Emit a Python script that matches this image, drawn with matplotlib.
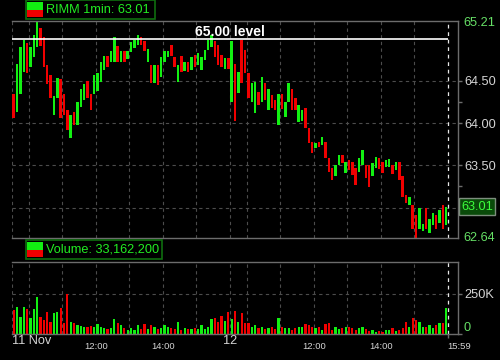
import numpy as np
import matplotlib
matplotlib.use('Agg')
import matplotlib.pyplot as plt
from matplotlib import font_manager
from matplotlib.patches import Rectangle
from matplotlib.transforms import blended_transform_factory

# =====================================
# Data: RIMM 6-minute bars over two sessions (11 Nov, 12 Nov)
# =====================================
bar_minutes = 6
highs = [
    64.35, 64.70, 64.90, 64.99, 64.95, 64.90, 65.05, 65.21, 65.13, 65.02,
    64.69, 64.57, 64.32, 64.54, 64.52, 64.34, 64.16, 64.10, 64.13, 64.25,
    64.40, 64.46, 64.50, 64.34, 64.57, 64.60, 64.72, 64.79, 64.79, 64.85,
    65.02, 64.91, 64.85, 64.85, 64.86, 64.96, 64.99, 65.05, 65.02, 64.97,
    64.88, 64.69, 64.69, 64.69, 64.78, 64.85, 64.85, 64.93, 64.78, 64.69,
    64.79, 64.72, 64.72, 64.78, 64.81, 64.83, 64.78, 64.87, 64.99, 65.04,
    64.97, 64.93, 64.81, 64.77, 64.77,
    64.97, 64.70, 64.61, 64.99, 64.87, 64.60, 64.48, 64.49, 64.37, 64.55,
    64.48, 64.40, 64.33, 64.28, 64.34, 64.35, 64.25, 64.48, 64.40, 64.30,
    64.22, 64.16, 64.18, 63.94, 63.78, 63.76, 63.78, 63.84, 63.78, 63.59,
    63.47, 63.50, 63.62, 63.62, 63.54, 63.56, 63.54, 63.47, 63.59, 63.68,
    63.50, 63.50, 63.53, 63.60, 63.59, 63.54, 63.56, 63.58, 63.51, 63.54,
    63.54, 63.38, 63.15, 63.13, 63.03, 62.91, 63.00, 62.80, 62.99, 62.87,
    62.94, 62.91, 62.97, 63.03, 63.01,
]
lows = [
    64.06, 64.13, 64.34, 64.61, 64.60, 64.67, 64.78, 64.90, 64.91, 64.66,
    64.46, 64.30, 64.10, 64.30, 64.06, 64.10, 63.92, 63.82, 63.98, 63.98,
    64.19, 64.28, 64.30, 64.16, 64.34, 64.38, 64.49, 64.63, 64.66, 64.72,
    64.73, 64.73, 64.72, 64.73, 64.76, 64.84, 64.89, 64.93, 64.92, 64.85,
    64.72, 64.48, 64.48, 64.45, 64.55, 64.72, 64.78, 64.79, 64.66, 64.49,
    64.61, 64.62, 64.61, 64.63, 64.66, 64.69, 64.63, 64.75, 64.87, 64.90,
    64.78, 64.69, 64.66, 64.64, 64.64,
    64.25, 64.02, 64.36, 64.48, 64.60, 64.30, 64.25, 64.12, 64.22, 64.25,
    64.27, 64.16, 64.18, 64.16, 63.98, 64.17, 64.07, 64.25, 64.16, 64.16,
    64.01, 64.02, 63.94, 63.77, 63.65, 63.71, 63.72, 63.74, 63.59, 63.42,
    63.33, 63.38, 63.50, 63.53, 63.41, 63.45, 63.39, 63.27, 63.42, 63.50,
    63.35, 63.24, 63.38, 63.47, 63.46, 63.41, 63.48, 63.48, 63.40, 63.45,
    63.33, 63.12, 63.05, 63.03, 62.75, 62.64, 62.75, 62.72, 62.75, 62.70,
    62.79, 62.75, 62.82, 62.75, 62.79,
]
# 1 = close above open (green), 0 = close below open (red)
up = [
    0, 1, 1, 1, 0, 1, 1, 1, 0, 0,
    0, 0, 1, 1, 0, 0, 0, 1, 0, 1,
    1, 1, 0, 0, 1, 1, 1, 1, 0, 1,
    1, 0, 1, 0, 1, 1, 1, 1, 0, 0,
    1, 0, 1, 0, 1, 1, 1, 0, 0, 1,
    0, 1, 0, 1, 0, 1, 1, 1, 1, 1,
    0, 0, 0, 1, 0,
    1, 0, 1, 0, 0, 0, 1, 1, 0, 1,
    0, 1, 0, 0, 1, 0, 1, 1, 0, 0,
    1, 1, 0, 0, 0, 1, 0, 1, 0, 0,
    0, 1, 1, 0, 1, 0, 0, 0, 1, 1,
    0, 0, 1, 1, 0, 0, 1, 1, 0, 1,
    0, 0, 0, 1, 0, 0, 1, 1, 0, 1,
    1, 0, 1, 0, 1,
]
# volume per bar, thousands of shares
volume_k = [
    150, 167, 108, 167, 154, 98, 154, 229, 108, 88,
    140, 77, 129, 140, 160, 67, 250, 77, 67, 56,
    50, 46, 46, 50, 46, 62, 46, 40, 33, 35,
    92, 67, 56, 35, 25, 35, 25, 56, 29, 62,
    33, 56, 42, 29, 35, 56, 42, 35, 29, 73,
    25, 35, 29, 31, 35, 29, 56, 29, 42, 92,
    98, 77, 112, 83, 135,
    92, 144, 77, 133, 71, 67, 46, 56, 35, 46,
    29, 35, 46, 29, 98, 46, 35, 40, 25, 35,
    42, 46, 62, 56, 46, 35, 46, 25, 62, 71,
    25, 42, 29, 35, 46, 42, 35, 25, 35, 42,
    29, 21, 25, 15, 21, 15, 25, 25, 35, 21,
    25, 35, 77, 46, 98, 87, 77, 42, 46, 56,
    35, 56, 67, 67, 160,
]
last_close = 63.01
total_volume = 33162200
level = 65.00

price_ticks = [63.0, 63.5, 64.0, 64.5]
price_labels = ['', '63.50', '64.00', '64.50']
vol_ticks = [0, 250000]
vol_labels = ['', '250K']

# x axis in session minutes (9:30-16:00 = 390 per day)
hour_lines = [0, 30, 90, 150, 210, 270, 330, 390, 420, 480, 540, 600, 660, 720]
day_end = 780
date_labels = [(0, '11 Nov', 'left'), (390, '12', 'center')]
time_labels = [(150, '12:00'), (270, '14:00'), (540, '12:00'), (660, '14:00')]
end_label = '15:59'

# =====================================
# Style
# =====================================
names = {f.name for f in font_manager.fontManager.ttflist}
if 'Liberation Sans Narrow' in names:
    NARROW, NSIZE = 'Liberation Sans Narrow', 11
else:
    NARROW, NSIZE = 'Liberation Sans', 9.2
plt.rcParams['font.family'] = 'Liberation Sans'

GREEN = '#12f012'
RED = '#f00000'
GRID = '#4c4c4c'
SPINE = '#6c6c6c'
LABEL = '#d4d4d4'
LIGHTGREEN = '#66e066'

highs = np.array(highs)
lows = np.array(lows)
x = np.arange(len(highs)) * bar_minutes + bar_minutes / 2
colors = [GREEN if u else RED for u in up]

W, H = 500, 360
fig = plt.figure(figsize=(W / 100, H / 100), dpi=100, facecolor='black')


def fbox(x0, y0, x1, y1):
    # pixel box (top-left origin) -> figure fraction rect
    return [x0 / W, 1 - y1 / H, (x1 - x0) / W, (y1 - y0) / H]


ax = fig.add_axes(fbox(12, 21, 458, 238))
axv = fig.add_axes(fbox(12, 262, 458, 334), sharex=ax)

for a in (ax, axv):
    a.set_facecolor('black')
    a.spines['left'].set_visible(False)
    for s in ('top', 'bottom', 'right'):
        a.spines[s].set_color(SPINE)
        a.spines[s].set_linewidth(1.0)
    a.yaxis.tick_right()
    a.set_xticks(hour_lines)
    a.grid(True, color=GRID, linestyle=(0, (3, 3)), linewidth=0.8)
    a.set_axisbelow(True)
    a.tick_params(axis='y', colors=SPINE, labelcolor=LABEL, length=3,
                  width=1, pad=1.5, labelsize=NSIZE)
    a.tick_params(axis='y', which='minor', colors=SPINE, length=3, width=1)
    a.axvline(day_end, color='#e8e8e8', linestyle=(0, (3, 3)), linewidth=0.9)

ax.set_xlim(0, 798)

# =====================================
# Price panel
# =====================================
ax.bar(x, highs - lows, bottom=lows, width=4.4, color=colors, linewidth=0)
ax.set_ylim(lows.min(), highs.max())
ax.set_yticks(price_ticks)
ax.set_yticklabels(price_labels, family=NARROW)
ax.set_yticks([63.25, 64.25], minor=True)
ax.tick_params(axis='x', length=0, labelbottom=False)

ax.hlines(level, 0, day_end, color='white', linewidth=1.2)
ax.text(day_end / 2, level, f'{level:.2f} level', color='white',
        fontsize=10, fontweight='bold', ha='center', va='bottom')

yr = ('axes fraction', 'data')
ax.annotate(f'{highs.max():.2f}', xy=(1, highs.max()), xycoords=yr,
            xytext=(3.6, -1.5), textcoords='offset points', va='center',
            color=LIGHTGREEN, family=NARROW, fontsize=NSIZE, annotation_clip=False)
ax.annotate(f'{lows.min():.2f}', xy=(1, lows.min()), xycoords=yr,
            xytext=(3.6, 0), textcoords='offset points', va='center',
            color=LIGHTGREEN, family=NARROW, fontsize=NSIZE, annotation_clip=False)
ax.annotate(f'{last_close:.2f}', xy=(1, last_close), xycoords=yr,
            xytext=(2.2, 0), textcoords='offset points', va='center',
            color='#3cff3c', family=NARROW, fontsize=NSIZE, annotation_clip=False,
            bbox=dict(boxstyle='square,pad=0.18', fc='#0a4a0a', ec='#7d8d7d', lw=1))

# =====================================
# Volume panel
# =====================================
axv.bar(x, np.array(volume_k) * 1000, width=4.0, color=colors, linewidth=0)
axv.set_ylim(0, 450000)
axv.set_yticks(vol_ticks)
axv.set_yticklabels(vol_labels, family=NARROW)
axv.annotate('0', xy=(1, 0), xycoords=yr, xytext=(3.6, 0),
             textcoords='offset points', va='bottom', color=LIGHTGREEN,
             family=NARROW, fontsize=NSIZE, annotation_clip=False)
label_pos = [p for p, _, _ in date_labels] + [p for p, _ in time_labels] + [day_end]
axv.set_xticks(label_pos, minor=True)
axv.tick_params(axis='x', which='major', length=0, labelbottom=False)
axv.tick_params(axis='x', which='minor', length=3, width=1, colors=SPINE,
                direction='out', labelbottom=False)

tr = blended_transform_factory(axv.transData, fig.transFigure)
for pos, txt, ha in date_labels:
    axv.text(pos, 1 - 344 / H, txt, transform=tr, ha=ha, va='baseline',
             color=LABEL, family=NARROW, fontsize=NSIZE)
for pos, txt in time_labels:
    axv.text(pos, 1 - 349 / H, txt, transform=tr, ha='center', va='baseline',
             color=LABEL, fontsize=6.8)
axv.text(day_end - 1, 1 - 349 / H, end_label, transform=tr, ha='left',
         va='baseline', color=LABEL, fontsize=6.8)

# =====================================
# Legend boxes
# =====================================
def legend_box(x0, y0, x1, y1, text):
    fig.add_artist(Rectangle(fbox(x0, y0, x1, y1)[:2], (x1 - x0) / W, (y1 - y0) / H,
                             transform=fig.transFigure, fc='black', ec='#0f6e0f', lw=1.2))
    mid = (y0 + y1) / 2
    fig.add_artist(Rectangle(fbox(27, y0 + 2, 43, mid)[:2], 16 / W, (mid - y0 - 2) / H,
                             transform=fig.transFigure, fc=GREEN, ec='none'))
    fig.add_artist(Rectangle(fbox(27, mid, 43, y1 - 2)[:2], 16 / W, (y1 - 2 - mid) / H,
                             transform=fig.transFigure, fc=RED, ec='none'))
    fig.text(46 / W, 1 - (mid + 0.5) / H, text, color='#22ee22', family=NARROW,
             fontsize=NSIZE, va='center', ha='left')


legend_box(25.5, 0.5, 155, 19, f'RIMM 1min: {last_close:.2f}')
legend_box(25.5, 240, 162, 259, f'Volume: {total_volume:,}')

fig.savefig('out.png', dpi=100, facecolor='black')
